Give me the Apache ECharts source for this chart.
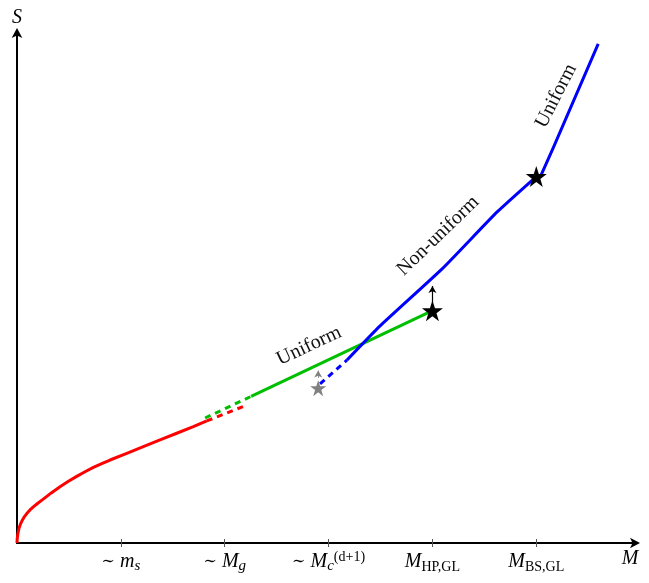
<!DOCTYPE html>
<html><head><meta charset="utf-8">
<script src="https://cdn.jsdelivr.net/npm/echarts@6/dist/echarts.min.js"></script>
<style>html,body{margin:0;padding:0;background:#fff}#c{width:649px;height:583px}</style>
</head><body><div id="c"></div>
<script>
// ---- data (x in tick units, y in same-ish units) ----
const xTicks = [1, 2, 3, 4, 5];
const xTickLabelParts = [
  {pre: '∼ ', main: 'm', sub: 's', subItalic: true, sup: ''},
  {pre: '∼ ', main: 'M', sub: 'g', subItalic: true, sup: ''},
  {pre: '∼ ', main: 'M', sub: 'c', subItalic: true, sup: '(d+1)'},
  {pre: '', main: 'M', sub: 'HP,GL', subItalic: false, sup: ''},
  {pre: '', main: 'M', sub: 'BS,GL', subItalic: false, sup: ''}
];
const redCurve = [[0,0],[0.002,0.04],[0.006,0.075],[0.012,0.11],[0.02,0.145],[0.032,0.18],[0.048,0.215],[0.068,0.250],[0.094,0.285],[0.125,0.320],[0.160,0.352],[0.200,0.385],[0.253,0.425],[0.330,0.485],[0.414,0.545],[0.495,0.598],[0.575,0.645],[0.655,0.690],[0.735,0.732],[0.816,0.769],[0.896,0.804],[1.057,0.869],[1.216,0.933],[1.377,0.998],[1.538,1.063],[1.698,1.127],[1.827,1.182]];
const redDashed = [[1.827,1.182],[2.196,1.330]];
const greenDashed = [[1.811,1.211],[2.254,1.420]];
const greenSolid = [[2.254,1.420],[4.0,2.25]];
const blueDashed = [[2.918,1.541],[3.178,1.773]];
const blueLower = [[3.178,1.773],[3.496,2.103],[4.093,2.655],[4.623,3.207],[5.0,3.55]];
const blueUpper = [[5.047,3.566],[5.163,3.828],[5.596,4.835]];
const blackStars = [[4.0,2.25],[5.0,3.55]];
const grayStars = [[2.9,1.50]];
const blackArrow = [[4.0,2.33],[4.0,2.49]];
const grayArrow = [[2.9,1.60],[2.9,1.67]];
const annotationText = ['Uniform', 'Non-uniform', 'Uniform'];
const annotationPos = [[2.812,1.909],[4.055,2.975],[5.191,4.331]];
const annotationAngle = [25, 44, 63];

const STAR = 'path://M50,0 L61.8,35.1 L98.9,35.1 L68.9,56.7 L80.3,91.9 L50,70.2 L19.7,91.9 L31.1,56.7 L1.1,35.1 L38.2,35.1 Z';
const SERIF = '"Liberation Serif", "DejaVu Serif", serif';

function tickLabel(v) {
  const idx = xTicks.indexOf(Math.round(v * 1000) / 1000);
  if (idx < 0) return '';
  const p = xTickLabelParts[idx];
  let s = '';
  if (p.pre) s += '{t|' + p.pre + '}';
  s += '{i|' + p.main + '}';
  s += (p.subItalic ? '{si|' : '{su|') + p.sub + '}';
  if (p.sup) s += '{sp|' + p.sup + '}';
  return s;
}

function line(data, color, dashed, smooth) {
  return {
    type: 'line', data: data, showSymbol: false, symbol: 'none', smooth: smooth || false,
    lineStyle: {color: color, width: 3, type: dashed ? [6, 5] : 'solid', cap: 'butt', join: 'round', opacity: 1},
    z: 2, silent: true
  };
}

const chart = echarts.init(document.getElementById('c'), null, {renderer: 'canvas'});
const option = {
  animation: false,
  backgroundColor: '#fff',
  grid: {left: 17, right: 13, top: 32, bottom: 40, containLabel: false},
  xAxis: [{
    type: 'value', min: 0, max: 5.96, interval: 1,
    name: 'M', nameLocation: 'end', nameGap: -6,
    nameTextStyle: {fontFamily: SERIF, fontStyle: 'italic', fontSize: 20, color: '#000', align: 'center', verticalAlign: 'top', padding: [6, 0, 0, 0]},
    axisLine: {show: true, lineStyle: {color: '#000', width: 2}, symbol: ['none', 'arrow'], symbolSize: [8, 10], symbolOffset: [0, 4]},
    axisTick: {show: true, length: 4, lineStyle: {color: '#555', width: 1}, customValues: xTicks},
    axisLabel: {
      show: true, margin: 7, customValues: xTicks, formatter: tickLabel, color: '#000',
      rich: {
        t: {fontFamily: '"DejaVu Serif", serif', fontSize: 16, lineHeight: 24, color: '#000'},
        i: {fontFamily: SERIF, fontStyle: 'italic', fontSize: 20, lineHeight: 24, color: '#000'},
        si: {fontFamily: SERIF, fontStyle: 'italic', fontSize: 15, lineHeight: 14, verticalAlign: 'bottom', color: '#000'},
        su: {fontFamily: SERIF, fontSize: 14, lineHeight: 14, verticalAlign: 'bottom', color: '#000'},
        sp: {fontFamily: SERIF, fontSize: 14, lineHeight: 13, verticalAlign: 'top', color: '#000'}
      }
    },
    splitLine: {show: false}
  }, {
    type: 'value', min: 0, max: 5.96, interval: 1, position: 'bottom',
    axisLine: {show: false},
    axisTick: {show: true, inside: true, length: 4, lineStyle: {color: '#555', width: 1}, customValues: xTicks},
    axisLabel: {show: false},
    splitLine: {show: false}
  }],
  yAxis: {
    type: 'value', min: 0, max: 4.95,
    name: 'S', nameLocation: 'end', nameGap: 4,
    nameTextStyle: {fontFamily: SERIF, fontStyle: 'italic', fontSize: 20, color: '#000', align: 'center'},
    axisLine: {show: true, lineStyle: {color: '#000', width: 2}, symbol: ['none', 'arrow'], symbolSize: [8, 10], symbolOffset: [0, 4]},
    axisTick: {show: false},
    axisLabel: {show: false},
    splitLine: {show: false}
  },
  series: [
    line(redCurve, '#ff0000', false),
    line(redDashed, '#ff0000', true),
    line(greenDashed, '#00bf00', true),
    line(greenSolid, '#00bf00', false),
    line(blueDashed, '#0000ff', true),
    line(blueLower, '#0000ff', false, 0.15),
    line(blueUpper, '#0000ff', false),
    {
      type: 'line', data: [], silent: true,
      markLine: {
        silent: true, symbol: ['none', 'arrow'], symbolSize: [6, 7],
        label: {show: false},
        data: [
          [{coord: blackArrow[0], lineStyle: {color: '#000', width: 1.2, type: 'solid', opacity: 1}}, {coord: blackArrow[1]}],
          [{coord: grayArrow[0], lineStyle: {color: '#808080', width: 0.9, type: 'solid', opacity: 1}, symbolSize: [4, 5]}, {coord: grayArrow[1]}]
        ]
      }
    },
    {type: 'scatter', data: blackStars, symbol: STAR, symbolSize: 21, itemStyle: {color: '#000', opacity: 1}, z: 5, silent: true},
    {type: 'scatter', data: grayStars, symbol: STAR, symbolSize: 16, itemStyle: {color: '#808080', opacity: 1}, z: 5, silent: true},
    {
      type: 'scatter', symbolSize: 0, z: 6, silent: true, itemStyle: {opacity: 1},
      data: annotationText.map((t, k) => ({
        value: annotationPos[k], name: t,
        label: {show: true, position: 'inside', formatter: t, rotate: annotationAngle[k],
          fontFamily: SERIF, fontSize: 20, color: '#111', opacity: 1, align: 'center', verticalAlign: 'middle'}
      }))
    }
  ]
};
chart.setOption(option);
</script>
</body></html>
